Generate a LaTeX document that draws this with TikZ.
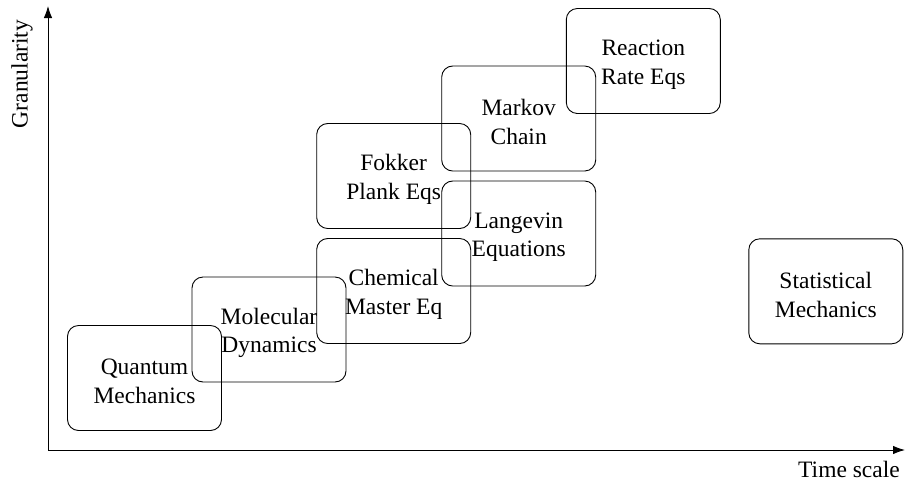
\documentclass[tikz,border=0pt]{standalone}
\usepackage{fontspec}
\setmainfont{Liberation Serif}
\usetikzlibrary{arrows.meta}
\begin{document}
\begin{tikzpicture}[x=1pt,y=-1pt,
  box/.style={draw, line width=0.9pt, rounded corners=11pt, minimum width=154pt, minimum height=105pt, inner sep=0pt},
  txt/.style={align=center, font=\fontsize{23.5}{28.5}\selectfont, inner sep=0pt},
  axis/.style={line width=0.9pt, -{Latex[length=12pt,width=8.5pt]}},
  lbl/.style={font=\fontsize{23.5}{28.5}\selectfont, inner sep=0pt}]
\useasboundingbox (0,0) rectangle (905,483);
\coordinate (o) at (48,450);
\coordinate (yt) at (48,6);
\coordinate (xt) at (905,450);
\draw[axis] (o) -- (yt);
\draw[axis] (o) -- (xt);
\node[lbl, rotate=90] (gl) at (22,74) {Granularity};
\node[lbl] (tl) at (849,469) {Time scale};
\node[box] (qm) at (144.5,378) {};
\node[box] (md) at (269,329.5) {};
\node[box] (cm) at (393.7,291) {};
\node[box] (fp) at (393.7,176) {};
\node[box] (le) at (518.7,233.5) {};
\node[box] (mc) at (518.7,118.5) {};
\node[box] (rr) at (643.3,61) {};
\node[box] (sm) at (825.8,291.3) {};
\node[txt] (qmt) at ([yshift=-3.5pt]qm.center) {Quantum\\Mechanics};
\node[txt] (mdt) at ([yshift=-3.5pt]md.center) {Molecular\\Dynamics};
\node[txt] (cmt) at ([yshift=-3.5pt]cm.center) {Chemical\\Master Eq};
\node[txt] (fpt) at ([yshift=-3.5pt]fp.center) {Fokker\\Plank Eqs};
\node[txt] (let) at ([yshift=-3.5pt]le.center) {Langevin\\Equations};
\node[txt] (mct) at ([yshift=-3.5pt]mc.center) {Markov\\Chain};
\node[txt] (rrt) at ([yshift=-3.5pt]rr.center) {Reaction\\Rate Eqs};
\node[txt] (smt) at ([yshift=-3.5pt]sm.center) {Statistical\\Mechanics};
\end{tikzpicture}
\end{document}
